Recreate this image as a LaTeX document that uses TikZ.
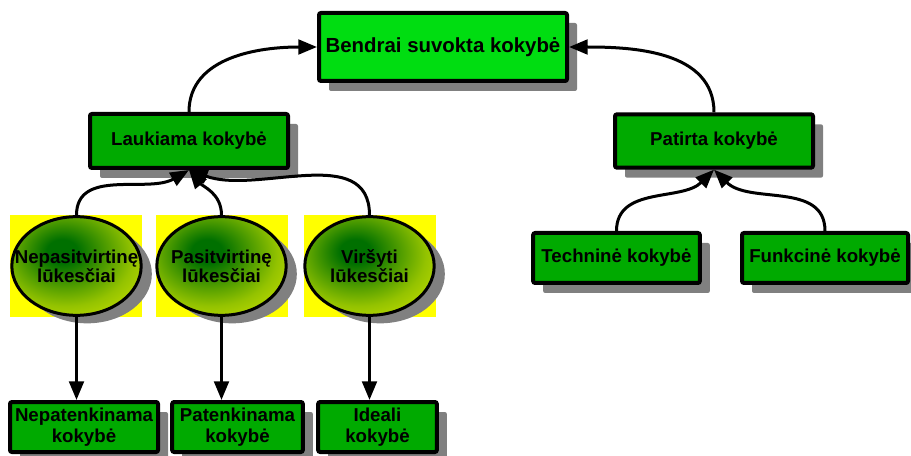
\documentclass[tikz,border=0pt]{standalone}
\usepackage{fontspec}
\setmainfont{Liberation Sans}
\usetikzlibrary{arrows.meta,shadows,shapes.geometric}
\definecolor{lightgr}{RGB}{0,221,17}
\definecolor{darkgr}{RGB}{0,170,0}
\definecolor{shadowgr}{RGB}{128,128,128}
\definecolor{coregr}{RGB}{0,112,0}
\definecolor{lukyellow}{RGB}{255,255,0}
\pgfdeclareradialshading{lukes}{\pgfpoint{-6bp}{8bp}}{color(0bp)=(coregr); color(6bp)=(coregr); color(26bp)=(coregr!42!lukyellow); color(50bp)=(lukyellow); color(90bp)=(lukyellow)}

\begin{document}
\begin{tikzpicture}[x=0.75pt,y=-0.75pt,
  kbox/.style={draw, line width=3pt, fill=darkgr, rounded corners=1.5pt, inner sep=0pt, align=center,
    font=\fontsize{14}{15.5}\selectfont\bfseries,
    drop shadow={shadow xshift=7.5pt, shadow yshift=-7.5pt, fill=shadowgr, opacity=1}},
  lukbg/.style={fill=lukyellow, minimum width=99pt, minimum height=76.5pt, inner sep=0pt},
  luk/.style={ellipse, draw, line width=2.25pt, shade, shading=lukes, minimum width=97pt, minimum height=74pt,
    inner sep=0pt, drop shadow={shadow xshift=8pt, shadow yshift=-6pt, fill=shadowgr, opacity=1},
    label={[align=center, font=\fontsize{14}{14}\selectfont\bfseries]center:#1}},
  conn/.style={line width=2.25pt, -{Triangle[length=14pt,width=11pt]}}]
\useasboundingbox (0,0) rectangle (911,456);
%top
\node[kbox, fill=lightgr, minimum width=186pt, minimum height=51pt, font=\fontsize{15.3}{17}\selectfont\bfseries] (bendr) at (443,47) {Bendrai suvokta kokybė};
\node[kbox, minimum width=148.5pt, minimum height=40.5pt] (lauk) at (189,141) {Laukiama kokybė};
\node[kbox, minimum width=148.5pt, minimum height=40pt] (pat) at (714,141) {Patirta kokybė};
\draw[conn] (lauk.north) to[out=90,in=180] (bendr.west);
\draw[conn] (pat.north) to[out=90,in=0] (bendr.east);
%lukesciai
\node[lukbg] (e1bg) at (76,266) {};
\node[lukbg] (e2bg) at (221.5,266) {};
\node[lukbg] (e3bg) at (369.5,266) {};
\node[luk={Nepasitvirtinę\\lūkesčiai}] (e1) at (76.5,266) {};
\node[luk={Pasitvirtinę\\lūkesčiai}] (e2) at (221.5,266) {};
\node[luk={Viršyti\\lūkesčiai}] (e3) at (369.5,266) {};
\draw[conn] (e1.north) to[out=90,in=-150] (lauk.south);
\draw[conn] (e2.north) to[out=90,in=-50] (lauk.south);
\draw[conn] (e3.north) to[out=90,in=-20] (lauk.south);
%bottom
\node[kbox, minimum width=111pt, minimum height=37.5pt] (nepat) at (84,427) {Nepatenkinama\\kokybė};
\node[kbox, minimum width=98pt, minimum height=37.5pt] (patenk) at (237.5,427) {Patenkinama\\kokybė};
\node[kbox, minimum width=89pt, minimum height=37.5pt] (ideal) at (377.5,427) {Ideali\\kokybė};
\draw[conn] (e1.south) -- (e1.south |- nepat.north);
\draw[conn] (e2.south) -- (e2.south |- patenk.north);
\draw[conn] (e3.south) -- (e3.south |- ideal.north);
%patirta
\node[kbox, minimum width=125pt, minimum height=37.5pt] (tech) at (616.5,258) {Techninė kokybė};
\node[kbox, minimum width=124.5pt, minimum height=37.5pt] (func) at (825,258) {Funkcinė kokybė};
\draw[conn] (tech.north) to[out=90,in=-135] (pat.south);
\draw[conn] (func.north) to[out=90,in=-45] (pat.south);
\end{tikzpicture}
\end{document}
